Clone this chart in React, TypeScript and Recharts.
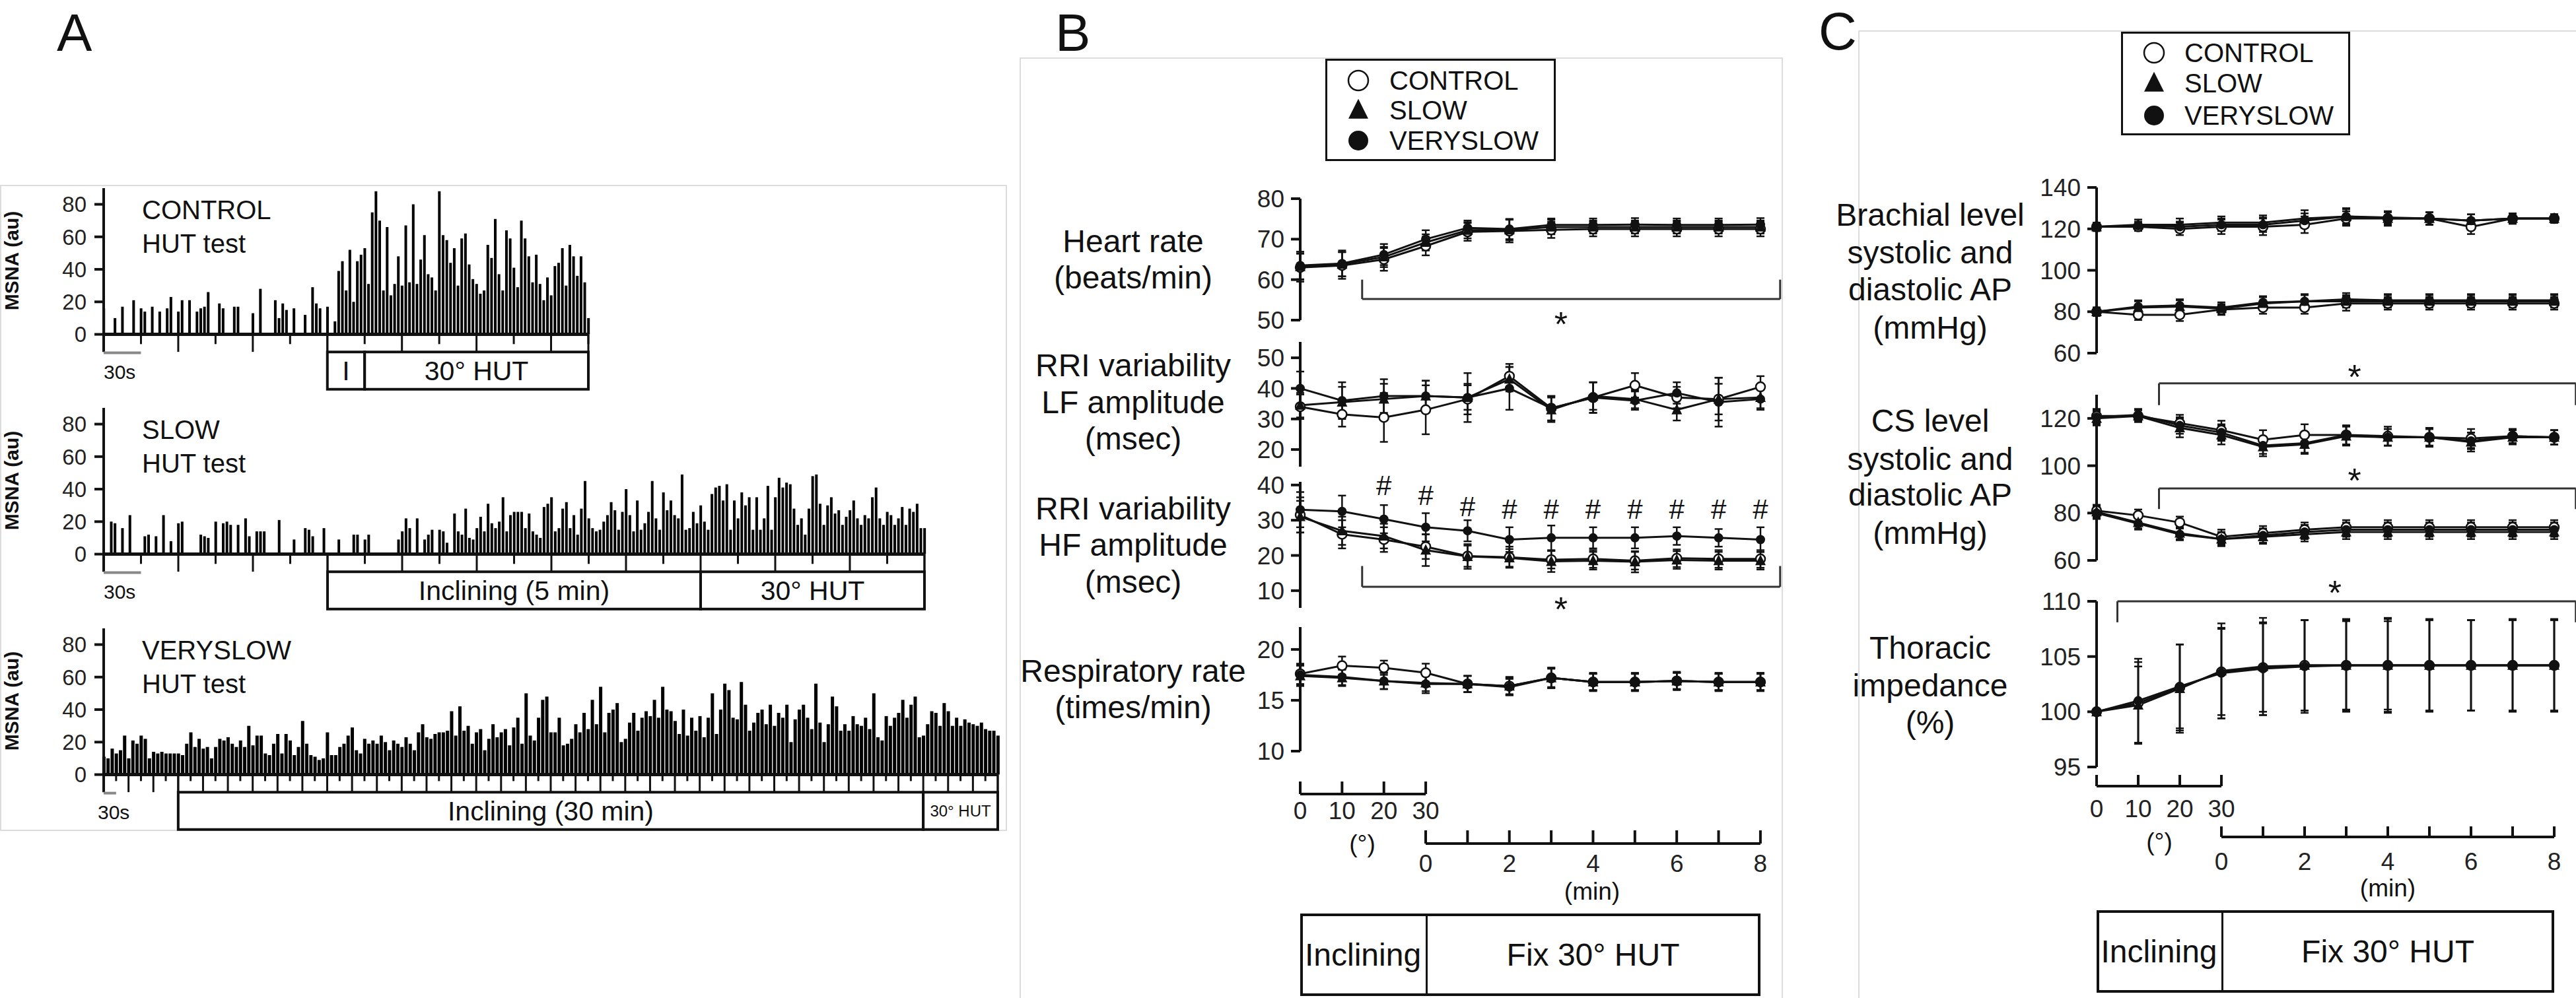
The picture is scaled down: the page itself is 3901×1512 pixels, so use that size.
import React from "react";
import {
  ComposedChart,
  Bar,
  Line,
  XAxis,
  YAxis,
  ReferenceLine,
  ReferenceArea,
  ReferenceDot,
  ErrorBar,
} from "recharts";

const FONT = "'Liberation Sans', Arial, Helvetica, sans-serif";
const INK = "#111";

// ---------- Panel A: MSNA burst amplitude (au), one value per time slot ----------
const controlSlotSec = 3;
const controlBursts = [
  16, 0, 0, 10, 0, 17, 0, 0, 21, 0,
  16, 14, 0, 17, 0, 14, 0, 16, 23, 0,
  14, 21, 0, 21, 0, 14, 16, 17, 26, 0,
  0, 19, 16, 0, 0, 17, 17, 0, 0, 0,
  13, 0, 28, 0, 0, 0, 21, 10, 19, 15,
  0, 16, 0, 0, 12, 0, 29, 19, 16, 0,
  17, 0, 8, 39, 45, 27, 52, 20, 45, 49,
  53, 31, 75, 88, 70, 27, 66, 24, 31, 48,
  30, 67, 32, 80, 31, 46, 61, 37, 35, 27,
  88, 61, 58, 44, 53, 30, 59, 62, 43, 34,
  31, 25, 27, 55, 47, 71, 37, 27, 64, 59,
  41, 29, 70, 59, 48, 32, 49, 31, 21, 35,
  24, 42, 44, 53, 30, 55, 48, 36, 48, 32,
  10,
];

const slowSlotSec = 3;
const slowBursts = [
  0, 0, 20, 19, 0, 16, 0, 24, 0, 0,
  0, 11, 12, 0, 11, 0, 24, 0, 8, 0,
  19, 20, 0, 0, 0, 0, 12, 11, 10, 0,
  20, 0, 19, 20, 18, 0, 18, 0, 22, 11,
  0, 14, 14, 14, 0, 0, 0, 21, 0, 0,
  0, 9, 0, 0, 16, 15, 11, 0, 0, 16,
  0, 0, 0, 9, 0, 0, 0, 12, 12, 0,
  9, 12, 0, 0, 0, 0, 0, 0, 0, 9,
  14, 22, 16, 0, 22, 0, 9, 12, 15, 0,
  15, 14, 7, 0, 25, 14, 12, 28, 10, 9,
  16, 23, 14, 31, 19, 16, 20, 35, 14, 24,
  26, 26, 26, 16, 25, 14, 12, 10, 29, 31,
  35, 14, 16, 28, 32, 16, 24, 12, 28, 45,
  22, 16, 14, 15, 20, 24, 32, 27, 15, 26,
  40, 24, 14, 33, 15, 19, 26, 45, 22, 15,
  38, 27, 33, 24, 22, 49, 15, 16, 26, 19,
  30, 20, 15, 37, 41, 42, 33, 43, 15, 33,
  22, 38, 30, 35, 15, 35, 15, 22, 42, 15,
  35, 47, 41, 44, 43, 28, 18, 22, 12, 28,
  48, 49, 31, 18, 30, 35, 25, 27, 18, 23,
  27, 33, 22, 18, 24, 22, 35, 41, 22, 18,
  26, 24, 18, 22, 29, 18, 28, 26, 31, 16,
  16,
];

const verySlowSlotSec = 10;
const verySlowBursts = [
  11, 10, 16, 13, 15, 24, 10, 21, 19, 24,
  22, 10, 14, 13, 14, 13, 13, 13, 13, 12,
  19, 26, 17, 22, 16, 17, 10, 17, 22, 21,
  23, 19, 17, 21, 17, 30, 18, 24, 24, 13,
  12, 19, 25, 13, 25, 21, 12, 17, 33, 19,
  12, 11, 9, 10, 26, 12, 12, 17, 19, 24,
  29, 15, 13, 22, 19, 21, 19, 24, 20, 15,
  21, 19, 17, 23, 19, 15, 26, 31, 23, 22,
  25, 26, 26, 27, 39, 24, 42, 27, 30, 19,
  26, 28, 15, 22, 31, 23, 26, 28, 18, 29,
  35, 19, 50, 24, 21, 35, 46, 48, 26, 26,
  35, 18, 19, 22, 31, 26, 38, 28, 46, 31,
  54, 26, 38, 40, 44, 20, 22, 32, 38, 27,
  35, 39, 36, 46, 35, 54, 40, 39, 33, 25,
  40, 24, 35, 27, 36, 23, 35, 50, 25, 40,
  56, 52, 35, 34, 57, 43, 27, 32, 38, 40,
  31, 43, 30, 38, 35, 43, 20, 34, 40, 43,
  35, 28, 56, 32, 20, 31, 48, 42, 27, 31,
  27, 36, 31, 30, 35, 28, 50, 23, 21, 36,
  30, 35, 38, 46, 35, 43, 48, 23, 24, 31,
  39, 38, 30, 44, 39, 30, 35, 30, 34, 32,
  31, 30, 32, 28, 27, 27, 24,
];

const msnaTicks = [0, 20, 40, 60, 80];
const traceTitles = ["CONTROL", "SLOW", "VERYSLOW"];

// ---------- Panels B / C: 0,10,20,30 deg then 1..8 min ----------
const steps = [0, 1, 2, 3, 4, 5, 6, 7, 8, 9, 10, 11];
const degTicks = [0, 10, 20, 30];
const minTicks = [0, 1, 2, 3, 4, 5, 6, 7, 8];
const groupNames = ["CONTROL", "SLOW", "VERYSLOW"];

const hrControl = [63, 63.5, 65, 68.3, 71.8, 72, 72.3, 72.5, 72.5, 72.5, 72.5, 72.5];
const hrControlErr = [3.5, 3.3, 2.8, 2.3, 2.2, 2.8, 2, 1.8, 1.8, 1.8, 1.8, 1.8];
const hrSlow = [63.2, 63.8, 65.6, 69.2, 72.2, 72.3, 73, 73, 73, 73, 73, 73];
const hrSlowErr = [3.2, 3, 2.5, 2, 2, 2.6, 1.8, 1.6, 1.6, 1.6, 1.6, 1.6];
const hrVery = [63.5, 64, 66.2, 70, 72.8, 72.5, 73.5, 73.5, 73.6, 73.5, 73.5, 73.6];
const hrVeryErr = [3.4, 3.2, 2.6, 2.2, 1.8, 2.5, 1.6, 1.6, 1.6, 1.6, 1.6, 1.6];

const lfControl = [34, 31.5, 30.5, 33, 36.5, 44, 33.5, 37, 41, 37, 36.5, 40.5];
const lfControlErr = [4, 4, 8, 8, 5, 4, 4, 5, 4, 3.5, 7, 3.5];
const lfSlow = [34.5, 35.5, 36.5, 37.5, 37, 43, 33, 37.5, 36.5, 33, 36.5, 37];
const lfSlowErr = [4, 5, 5, 5, 4, 4, 4, 4.5, 3, 3.5, 5, 4];
const lfVery = [40, 36, 37.5, 37.5, 37, 40, 33.5, 37, 36, 38.5, 35.5, 36.5];
const lfVeryErr = [5.5, 6, 5.5, 5, 8, 7, 4, 5, 3, 3.5, 8, 3];

const hfControl = [31.5, 26, 24.5, 22.5, 19.8, 19.5, 18.8, 19, 18.5, 19.2, 19, 19];
const hfControlErr = [5, 4, 3.5, 3.5, 3, 3, 2.5, 2.5, 2.5, 2.5, 2.5, 2.5];
const hfSlow = [31, 27, 25.5, 21.5, 19.7, 19.3, 18.3, 18.5, 18.2, 18.7, 18.5, 18.5];
const hfSlowErr = [4.5, 4, 3.5, 4.5, 3.5, 2.5, 3, 2.5, 3, 2.5, 2.5, 2.5];
const hfVery = [33, 32.5, 30.3, 28, 27, 24.5, 25, 25, 25, 25.5, 25, 24.5];
const hfVeryErr = [5, 4.5, 4, 4, 3, 3.5, 3.5, 3, 3, 2.5, 2.5, 3.5];
const hfHashY = [40, 37.2, 34, 33.3, 33.3, 33.3, 33.3, 33.3, 33.3, 33.3]; // steps 2..11

const respControl = [17.6, 18.4, 18.2, 17.7, 16.6, 16.4, 17.2, 16.8, 16.8, 16.9, 16.8, 16.8];
const respControlErr = [1, 0.9, 0.7, 0.9, 0.8, 0.9, 1, 0.9, 0.9, 0.9, 0.9, 0.9];
const respSlow = [17.4, 17.2, 16.9, 16.7, 16.6, 16.4, 17.2, 16.8, 16.8, 16.9, 16.8, 16.8];
const respSlowErr = [1, 0.8, 0.8, 0.8, 0.8, 0.8, 0.9, 0.8, 0.8, 0.8, 0.8, 0.8];
const respVery = [17.5, 17.3, 16.9, 16.6, 16.6, 16.3, 17.2, 16.8, 16.8, 16.9, 16.8, 16.8];
const respVeryErr = [1, 0.8, 0.8, 0.9, 0.8, 0.8, 1, 0.8, 0.8, 0.8, 0.8, 0.8];

const bsControl = [121, 121, 120, 121, 121, 122, 125, 125, 125, 121, 125, 125];
const bsControlErr = [2, 2, 3, 3.5, 4, 4, 3.5, 3, 3, 3.5, 2.5, 2];
const bsSlow = [121, 122, 122, 123, 123, 125, 126, 125, 125, 124, 125, 125];
const bsSlowErr = [2, 2.5, 3, 3, 3.5, 4, 4, 3.5, 3, 3, 2.5, 2];
const bsVery = [121, 121.5, 121, 122, 122, 124, 126, 125.5, 125, 124, 125, 125];
const bsVeryErr = [2, 2, 2.5, 3, 3.5, 3.5, 3.5, 3, 3, 3, 2.5, 2];
const bdControl = [80, 78.5, 78.5, 81, 82, 82, 84, 84, 84, 84, 84, 84];
const bdControlErr = [2, 2.5, 3, 2.5, 3, 3, 3.5, 3, 3, 3, 3, 3];
const bdSlow = [80, 82, 82.5, 81.5, 84, 85, 85, 85, 85, 85, 85, 85];
const bdSlowErr = [2, 3, 3, 3, 3, 3.5, 3, 3, 3, 3, 3, 3];
const bdVery = [80, 82.5, 83, 82, 84.5, 85, 86, 85.5, 85.5, 85.5, 85.5, 85.5];
const bdVeryErr = [2, 3, 3, 2.5, 3, 3, 3, 3, 3, 3, 3, 3];

const csControl = [121, 121, 118, 115, 111, 113, 113, 112.5, 112, 111.5, 112.5, 112];
const csControlErr = [3, 2.5, 3.5, 4, 4, 4.5, 4, 4, 4, 4, 3, 3];
const csSlow = [120, 121, 116, 113, 108, 109, 112.5, 112, 112, 110, 112, 112];
const csSlowErr = [3, 2.5, 4, 4, 4, 4, 4, 3.5, 3.5, 4, 3, 3];
const csVery = [120.5, 121.5, 117, 114, 108.5, 109.5, 113, 112, 112, 110.5, 112.5, 112];
const csVeryErr = [3, 2.5, 3.5, 3.5, 3.5, 4, 4, 3.5, 3.5, 3.5, 3, 3];
const cdControl = [81, 79, 76, 70, 71.5, 73, 74, 74, 74, 74, 74, 74];
const cdControlErr = [2.5, 2.5, 2.5, 3, 3, 3, 3, 3, 3, 3, 3, 3];
const cdSlow = [80.5, 76, 71.5, 69, 70, 71, 72, 72, 72, 72, 72, 72];
const cdSlowErr = [2.5, 2.5, 2.5, 3, 3, 3, 3, 3, 3, 3, 3, 3];
const cdVery = [80, 75.5, 71, 69, 70.5, 72, 73, 73, 73, 73, 73, 73];
const cdVeryErr = [2.5, 2.5, 2.5, 2.5, 3, 3, 3, 3, 3, 3, 3, 3];

const thControl = [100, 100.8, 102.2, 103.6, 104, 104.2, 104.2, 104.2, 104.2, 104.2, 104.2, 104.2];
const thControlErr = [0, 3.7, 3.9, 3.9, 4, 4.1, 4.2, 4.2, 4.2, 4.1, 4.2, 4.2];
const thSlow = [100, 100.6, 102.1, 103.7, 104.1, 104.2, 104.2, 104.2, 104.2, 104.2, 104.2, 104.2];
const thSlowErr = [0, 3.5, 4, 4.3, 4.4, 4.1, 4.1, 4.3, 4.1, 4.1, 4.1, 4.1];
const thVery = [100, 101, 102.3, 103.5, 103.9, 104.1, 104.2, 104.2, 104.2, 104.2, 104.2, 104.2];
const thVeryErr = [0, 3.8, 3.8, 4.1, 4.2, 4.2, 4, 4, 4.1, 4.1, 4.1, 4.1];

// ---------- helpers ----------
function Txt({ x, y, size, children, anchor = "middle", weight = 400, rotate = 0 }: any) {
  const tx = anchor === "middle" ? "-50%" : anchor === "end" ? "-100%" : "0%";
  return (
    <div
      style={{
        position: "absolute",
        left: x,
        top: y,
        fontSize: size,
        fontWeight: weight,
        lineHeight: 1,
        whiteSpace: "nowrap",
        transform: `translate(${tx}, -50%) rotate(${rotate}deg)`,
        color: INK,
      }}
    >
      {children}
    </div>
  );
}

function Frame({ left, top, width, height }: any) {
  return (
    <div
      style={{
        position: "absolute",
        left,
        top,
        width,
        height,
        border: "2px solid #dcdcdc",
        boxSizing: "border-box",
      }}
    />
  );
}

function Box({ left, top, width, height, split, leftText, rightText }: any) {
  return (
    <div
      style={{
        position: "absolute",
        left,
        top,
        width,
        height,
        border: `4px solid ${INK}`,
        boxSizing: "border-box",
      }}
    >
      <div style={{ position: "absolute", left: split - left - 4, top: 0, bottom: 0, borderLeft: `3px solid ${INK}` }} />
      <Txt x={(split - left) / 2 - 4} y={height / 2 - 4} size={48}>{leftText}</Txt>
      <Txt x={(split - left) + (left + width - split) / 2 - 4} y={height / 2 - 4} size={48}>{rightText}</Txt>
    </div>
  );
}

function icon(kind: string, r: number, cx: number, cy: number, key?: any) {
  if (kind === "open")
    return <circle key={key} cx={cx} cy={cy} r={r} fill="#fff" stroke={INK} strokeWidth={2.5} />;
  if (kind === "tri")
    return (
      <path
        key={key}
        d={`M${cx},${cy - r * 1.15} L${cx + r},${cy + r * 0.85} L${cx - r},${cy + r * 0.85} Z`}
        fill={INK}
      />
    );
  return <circle key={key} cx={cx} cy={cy} r={r} fill={INK} />;
}

function LegendBox({ left, top, width, height, rowsY, markX, textX }: any) {
  const kinds = ["open", "tri", "dot"];
  return (
    <div
      style={{
        position: "absolute",
        left,
        top,
        width,
        height,
        border: `3px solid ${INK}`,
        boxSizing: "border-box",
        background: "#fff",
      }}
    >
      {groupNames.map((name, n) => (
        <React.Fragment key={name}>
          <svg style={{ position: "absolute", left: markX - 20, top: rowsY[n] - 20 }} width={40} height={40}>
            {icon(kinds[n], 15, 20, 20)}
          </svg>
          <Txt x={textX} y={rowsY[n]} size={40} anchor="start">{name}</Txt>
        </React.Fragment>
      ))}
    </div>
  );
}

// ---------- Panel A trace ----------
const UNIT = 197 / 80; // px per au
const Y_LO = -36;
const Y_HI = 92;
const BOX_TOP = -10.8;
const BOX_BOT = -33.8;
const PLOT_LEFT = 157;
const Y_AXIS_W = 117;

function Trace({ baseline, plotRight, total, bursts, slotSec, barW, shortLen, boxes, title }: any) {
  const data = bursts.map((v: number, i: number) => ({ t: i * slotSec, v }));
  const ticks: number[] = [];
  for (let t = 30; t <= total; t += 30) ticks.push(t);
  const plotW = plotRight - PLOT_LEFT;
  const top = baseline - Y_HI * UNIT - 6;
  const height = (Y_HI - Y_LO) * UNIT + 12;
  const first = boxes[0].from;
  const last = boxes[boxes.length - 1].to;
  return (
    <>
      <div style={{ position: "absolute", left: PLOT_LEFT - Y_AXIS_W, top }}>
        <ComposedChart
          width={Y_AXIS_W + plotW + 14}
          height={height}
          data={data}
          margin={{ top: 6, right: 14, bottom: 6, left: 0 }}
        >
          <XAxis type="number" dataKey="t" domain={[0, total]} hide />
          <YAxis
            type="number"
            domain={[Y_LO, Y_HI]}
            ticks={msnaTicks}
            interval={0}
            width={Y_AXIS_W}
            axisLine={false}
            tickLine={{ stroke: INK, strokeWidth: 4 }}
            tickSize={14}
            tickMargin={12}
            tick={{ fontSize: 33, fill: "#222" }}
          />
          <Bar dataKey="v" fill="#000" barSize={barW} isAnimationActive={false} />
          <ReferenceLine segment={[{ x: 0, y: 0 }, { x: total, y: 0 }]} stroke={INK} strokeWidth={5} />
          <ReferenceLine segment={[{ x: 0, y: BOX_TOP }, { x: 0, y: 90 }]} stroke={INK} strokeWidth={4} />
          {ticks.map((t) => (
            <ReferenceLine
              key={t}
              segment={[{ x: t, y: 0 }, { x: t, y: t % 60 === 0 ? BOX_TOP : -shortLen }]}
              stroke={INK}
              strokeWidth={3}
            />
          ))}
          <ReferenceLine segment={[{ x: first, y: 0 }, { x: first, y: BOX_TOP }]} stroke={INK} strokeWidth={3} />
          <ReferenceLine segment={[{ x: last, y: 0 }, { x: last, y: BOX_TOP }]} stroke={INK} strokeWidth={3} />
          <ReferenceLine segment={[{ x: 0, y: -11.4 }, { x: 30, y: -11.4 }]} stroke="#888" strokeWidth={4} />
          {boxes.map((b: any) => (
            <ReferenceArea
              key={b.from}
              x1={b.from}
              x2={b.to}
              y1={BOX_BOT}
              y2={BOX_TOP}
              fill="#fff"
              fillOpacity={1}
              stroke={INK}
              strokeWidth={4}
              label={{ value: b.text, position: "center", fontSize: b.size, fill: INK }}
            />
          ))}
        </ComposedChart>
      </div>
      <Txt x={18} y={baseline - 112} size={30} weight={700} rotate={-90}>MSNA (au)</Txt>
      <Txt x={215} y={baseline - 189} size={40} anchor="start">{title}</Txt>
      <Txt x={215} y={baseline - 138} size={40} anchor="start">HUT test</Txt>
      <Txt x={slotSec === 10 ? 148 : 157} y={baseline + 57} size={30} anchor="start">30s</Txt>
    </>
  );
}

// ---------- Panels B/C subplot ----------
function marker(kind: string) {
  return (p: any) => {
    if (p.cx == null || p.cy == null) return <g key={`m-${p.index}`} />;
    return icon(kind, kind === "tri" ? 8 : 7, p.cx, p.cy, `m-${p.index}`);
  };
}

function Sub({ plotLeft, plotW, plotTop, plotBottom, domain, ticks, series, brackets = [], marks = [] }: any) {
  const rows = steps.map((i) => {
    const r: any = { i };
    series.forEach((s: any, k: number) => {
      r["v" + k] = s.vals[i];
      r["e" + k] = s.errs[i];
    });
    return r;
  });
  const mt = 60;
  const mb = 40;
  return (
    <div style={{ position: "absolute", left: plotLeft - 110, top: plotTop - mt }}>
      <ComposedChart
        width={110 + plotW + 60}
        height={plotBottom - plotTop + mt + mb}
        data={rows}
        margin={{ top: mt, right: 60, bottom: mb, left: 0 }}
      >
        <XAxis type="number" dataKey="i" domain={[0, 11]} hide />
        <YAxis
          type="number"
          domain={domain}
          ticks={ticks}
          interval={0}
          width={110}
          axisLine={{ stroke: INK, strokeWidth: 4 }}
          tickLine={{ stroke: INK, strokeWidth: 4 }}
          tickSize={14}
          tickMargin={10}
          tick={{ fontSize: 37, fill: "#222" }}
        />
        {brackets.map((b: any, n: number) => (
          <React.Fragment key={n}>
            <ReferenceLine ifOverflow="visible" segment={[{ x: b.x1, y: b.yEnd }, { x: b.x1, y: b.y }]} stroke="#333" strokeWidth={3} />
            <ReferenceLine ifOverflow="visible" segment={[{ x: b.x1, y: b.y }, { x: b.x2, y: b.y }]} stroke="#333" strokeWidth={3} />
            <ReferenceLine ifOverflow="visible" segment={[{ x: b.x2, y: b.y }, { x: b.x2, y: b.yEnd }]} stroke="#333" strokeWidth={3} />
          </React.Fragment>
        ))}
        {series.map((s: any, k: number) => (
          <Line
            key={k}
            dataKey={"v" + k}
            type="linear"
            stroke={INK}
            strokeWidth={3}
            dot={marker(s.kind)}
            activeDot={false}
            isAnimationActive={false}
          >
            <ErrorBar dataKey={"e" + k} width={6} stroke={INK} strokeWidth={2.5} direction="y" />
          </Line>
        ))}
        {marks.map((m: any, n: number) => (
          <ReferenceDot
            key={"mk" + n}
            x={m.x}
            y={m.y}
            r={1}
            ifOverflow="visible"
            shape={(p: any) => (
              <text
                x={p.cx}
                y={p.cy + (m.ch === "*" ? 30 : 15)}
                textAnchor="middle"
                fontSize={m.ch === "*" ? 52 : 42}
                fill={INK}
              >
                {m.ch}
              </text>
            )}
          />
        ))}
      </ComposedChart>
    </div>
  );
}

function Guide({ plotLeft, plotW, top, bottom }: any) {
  return (
    <div style={{ position: "absolute", left: plotLeft - 10, top }}>
      <ComposedChart
        width={plotW + 20}
        height={bottom - top}
        data={[{ i: 0 }, { i: 11 }]}
        margin={{ top: 0, right: 10, bottom: 0, left: 10 }}
      >
        <XAxis type="number" dataKey="i" domain={[0, 11]} hide />
        <YAxis hide domain={[0, 1]} />
        <ReferenceLine x={3} stroke="#444" strokeWidth={2} strokeDasharray="7 6" />
      </ComposedChart>
    </div>
  );
}

function UpTick({ x, y, payload, up, gap, showLabel }: any) {
  const v = payload.value;
  return (
    <g>
      <line x1={x} x2={x} y1={y} y2={y - up} stroke={INK} strokeWidth={4} />
      {showLabel(v) && (
        <text x={x} y={y + gap} textAnchor="middle" dominantBaseline="central" fontSize={37} fill="#222">
          {v}
        </text>
      )}
    </g>
  );
}

function StepAxis({ left, right, y, ticks, up, gap, showLabel }: any) {
  const ml = 40;
  const lo = ticks[0];
  const hi = ticks[ticks.length - 1];
  return (
    <div style={{ position: "absolute", left: left - ml, top: y - 31 }}>
      <ComposedChart
        width={right - left + 2 * ml}
        height={101}
        data={[{ x: lo }, { x: hi }]}
        margin={{ top: 30, right: ml, bottom: 0, left: ml }}
      >
        <XAxis
          type="number"
          dataKey="x"
          domain={[lo, hi]}
          ticks={ticks}
          interval={0}
          height={70}
          axisLine={{ stroke: INK, strokeWidth: 4 }}
          tickLine={false}
          tickSize={0}
          tickMargin={0}
          tick={(p: any) => <UpTick {...p} up={up} gap={gap} showLabel={showLabel} />}
        />
        <YAxis hide domain={[0, 1]} />
      </ComposedChart>
    </div>
  );
}

const ser = (vals: number[], errs: number[], kind: string) => ({ vals, errs, kind });

export default function App() {
  const bx = 1969;
  const bw = 697;
  const cx = 3175;
  const cw = 693;
  const bText = 1716;
  const cText = 2923;
  return (
    <div
      style={{
        position: "absolute",
        left: 0,
        top: 0,
        width: 3901,
        height: 1512,
        overflow: "hidden",
        background: "#fff",
        fontFamily: FONT,
        color: INK,
      }}
    >
      <Frame left={0} top={280} width={1525} height={979} />
      <Frame left={1544} top={87} width={1156} height={1440} />
      <Frame left={2814} top={46} width={1100} height={1480} />

      <Txt x={86} y={50} size={80} anchor="start">A</Txt>
      <Txt x={1598} y={50} size={80} anchor="start">B</Txt>
      <Txt x={2754} y={48} size={80} anchor="start">C</Txt>

      {/* Panel A */}
      <Trace
        baseline={507}
        plotRight={891}
        total={390}
        bursts={controlBursts}
        slotSec={controlSlotSec}
        barW={4}
        shortLen={6}
        title={traceTitles[0]}
        boxes={[
          { from: 180, to: 210, text: "I", size: 41 },
          { from: 210, to: 390, text: "30° HUT", size: 41 },
        ]}
      />
      <Trace
        baseline={840}
        plotRight={1400}
        total={660}
        bursts={slowBursts}
        slotSec={slowSlotSec}
        barW={4}
        shortLen={6}
        title={traceTitles[1]}
        boxes={[
          { from: 180, to: 480, text: "Inclining (5 min)", size: 41 },
          { from: 480, to: 660, text: "30° HUT", size: 41 },
        ]}
      />
      <Trace
        baseline={1174}
        plotRight={1511}
        total={2160}
        bursts={verySlowBursts}
        slotSec={verySlowSlotSec}
        barW={5}
        shortLen={4}
        title={traceTitles[2]}
        boxes={[
          { from: 180, to: 1980, text: "Inclining (30 min)", size: 41 },
          { from: 1980, to: 2160, text: "30° HUT", size: 24 },
        ]}
      />

      {/* Panel B */}
      <LegendBox left={2007} top={89} width={349} height={155} rowsY={[30, 75, 121]} markX={47} textX={94} />
      <Guide plotLeft={bx} plotW={bw} top={283} bottom={1152} />
      <Sub
        plotLeft={bx}
        plotW={bw}
        plotTop={301}
        plotBottom={485}
        domain={[50, 80]}
        ticks={[50, 60, 70, 80]}
        series={[ser(hrControl, hrControlErr, "open"), ser(hrSlow, hrSlowErr, "tri"), ser(hrVery, hrVeryErr, "dot")]}
        brackets={[{ x1: 1.48, x2: 11.47, y: 55.2, yEnd: 60 }]}
        marks={[{ x: 6.23, y: 51, ch: "*" }]}
      />
      <Sub
        plotLeft={bx}
        plotW={bw}
        plotTop={518}
        plotBottom={707}
        domain={[14.4, 55.2]}
        ticks={[20, 30, 40, 50]}
        series={[ser(lfControl, lfControlErr, "open"), ser(lfSlow, lfSlowErr, "tri"), ser(lfVery, lfVeryErr, "dot")]}
      />
      <Sub
        plotLeft={bx}
        plotW={bw}
        plotTop={730}
        plotBottom={921}
        domain={[5.1, 40.9]}
        ticks={[10, 20, 30, 40]}
        series={[ser(hfControl, hfControlErr, "open"), ser(hfSlow, hfSlowErr, "tri"), ser(hfVery, hfVeryErr, "dot")]}
        brackets={[{ x1: 1.48, x2: 11.47, y: 11.1, yEnd: 17 }]}
        marks={[
          { x: 6.23, y: 7, ch: "*" },
          ...hfHashY.map((y, n) => ({ x: steps[n + 2], y, ch: "#" })),
        ]}
      />
      <Sub
        plotLeft={bx}
        plotW={bw}
        plotTop={950}
        plotBottom={1138}
        domain={[10, 22.2]}
        ticks={[10, 15, 20]}
        series={[ser(respControl, respControlErr, "open"), ser(respSlow, respSlowErr, "tri"), ser(respVery, respVeryErr, "dot")]}
      />
      <StepAxis left={bx} right={bx + (bw * 3) / 11} y={1203} ticks={degTicks} up={19} gap={26} showLabel={() => true} />
      <StepAxis left={bx + (bw * 3) / 11} right={bx + bw} y={1278} ticks={minTicks} up={20} gap={31} showLabel={(v: number) => v % 2 === 0} />
      <Txt x={2063} y={1278} size={37}>(°)</Txt>
      <Txt x={2411} y={1350} size={37}>(min)</Txt>
      <Box left={bx} top={1384} width={bw} height={125} split={bx + (bw * 3) / 11} leftText="Inclining" rightText="Fix 30° HUT" />

      <Txt x={bText} y={366} size={48}>Heart rate</Txt>
      <Txt x={bText} y={421} size={48}>(beats/min)</Txt>
      <Txt x={bText} y={554} size={48}>RRI variability</Txt>
      <Txt x={bText} y={610} size={48}>LF amplitude</Txt>
      <Txt x={bText} y={665} size={48}>(msec)</Txt>
      <Txt x={bText} y={771} size={48}>RRI variability</Txt>
      <Txt x={bText} y={826} size={48}>HF amplitude</Txt>
      <Txt x={bText} y={882} size={48}>(msec)</Txt>
      <Txt x={bText} y={1017} size={48}>Respiratory rate</Txt>
      <Txt x={bText} y={1072} size={48}>(times/min)</Txt>

      {/* Panel C */}
      <LegendBox left={3212} top={48} width={347} height={157} rowsY={[29, 75, 124]} markX={47} textX={93} />
      <Guide plotLeft={cx} plotW={cw} top={253} bottom={1176} />
      <Sub
        plotLeft={cx}
        plotW={cw}
        plotTop={284}
        plotBottom={535}
        domain={[60, 140]}
        ticks={[60, 80, 100, 120, 140]}
        series={[
          ser(bsControl, bsControlErr, "open"),
          ser(bdControl, bdControlErr, "open"),
          ser(bsSlow, bsSlowErr, "tri"),
          ser(bdSlow, bdSlowErr, "tri"),
          ser(bsVery, bsVeryErr, "dot"),
          ser(bdVery, bdVeryErr, "dot"),
        ]}
      />
      <Sub
        plotLeft={cx}
        plotW={cw}
        plotTop={598}
        plotBottom={849}
        domain={[60, 130]}
        ticks={[60, 80, 100, 120]}
        series={[
          ser(csControl, csControlErr, "open"),
          ser(cdControl, cdControlErr, "open"),
          ser(csSlow, csSlowErr, "tri"),
          ser(cdSlow, cdSlowErr, "tri"),
          ser(csVery, csVeryErr, "dot"),
          ser(cdVery, cdVeryErr, "dot"),
        ]}
        brackets={[
          { x1: 1.5, x2: 11.52, y: 134.8, yEnd: 125.6 },
          { x1: 1.5, x2: 11.52, y: 90.4, yEnd: 81.7 },
        ]}
        marks={[
          { x: 6.2, y: 141, ch: "*" },
          { x: 6.2, y: 97, ch: "*" },
        ]}
      />
      <Sub
        plotLeft={cx}
        plotW={cw}
        plotTop={911}
        plotBottom={1162}
        domain={[95, 110]}
        ticks={[95, 100, 105, 110]}
        series={[ser(thControl, thControlErr, "open"), ser(thSlow, thSlowErr, "tri"), ser(thVery, thVeryErr, "dot")]}
        brackets={[{ x1: 0.5, x2: 11.52, y: 110, yEnd: 108.1 }]}
        marks={[{ x: 5.73, y: 111.5, ch: "*" }]}
      />
      <StepAxis left={cx} right={cx + (cw * 3) / 11} y={1191} ticks={degTicks} up={17} gap={34} showLabel={() => true} />
      <StepAxis left={cx + (cw * 3) / 11} right={cx + cw} y={1268} ticks={minTicks} up={16} gap={37} showLabel={(v: number) => v % 2 === 0} />
      <Txt x={3270} y={1275} size={37}>(°)</Txt>
      <Txt x={3616} y={1345} size={37}>(min)</Txt>
      <Box left={cx} top={1379} width={cw} height={125} split={cx + (cw * 3) / 11} leftText="Inclining" rightText="Fix 30° HUT" />

      <Txt x={cText} y={326} size={48}>Brachial level</Txt>
      <Txt x={cText} y={383} size={48}>systolic and</Txt>
      <Txt x={cText} y={439} size={48}>diastolic AP</Txt>
      <Txt x={cText} y={497} size={48}>(mmHg)</Txt>
      <Txt x={cText} y={638} size={48}>CS level</Txt>
      <Txt x={cText} y={696} size={48}>systolic and</Txt>
      <Txt x={cText} y={750} size={48}>diastolic AP</Txt>
      <Txt x={cText} y={808} size={48}>(mmHg)</Txt>
      <Txt x={cText} y={982} size={48}>Thoracic</Txt>
      <Txt x={cText} y={1039} size={48}>impedance</Txt>
      <Txt x={cText} y={1095} size={48}>(%)</Txt>
    </div>
  );
}
